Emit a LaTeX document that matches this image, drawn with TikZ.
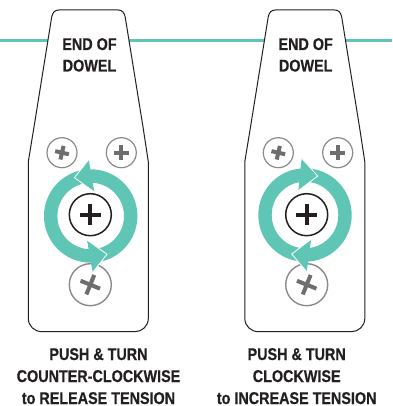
\documentclass[tikz,border=0pt]{standalone}
\usepackage{fontspec}
\setmainfont{Liberation Sans}[BoldFont={Liberation Sans Bold},BoldFeatures={FakeStretch=0.845,FakeBold=0.5}]
\definecolor{teal1}{HTML}{5FC5B5}
\definecolor{greyline}{HTML}{8A8A8A}
\definecolor{greycross}{HTML}{6D6E70}
\definecolor{ink}{HTML}{231F20}
\tikzset{
  x=1pt,y=-1pt,
  plate/.style={draw=ink,fill=white,line width=1pt},
  dowel/.style={draw=teal1,line width=3pt},
  ringstyle/.style={draw=teal1,line width=13.4pt},
  headfill/.style={fill=teal1,draw=none},
  headedge/.style={draw=white,line width=0.8pt,line join=miter},
  label/.style={font=\bfseries\fontsize{17}{18}\selectfont,text=ink,anchor=base,inner sep=0pt},
  screwsmall/.style={draw=greyline,line width=1.2pt,fill=white},
  screwbig/.style={draw=ink,line width=1.5pt,fill=white},
  crossgrey/.style={draw=greycross,line width=4pt},
  crossink/.style={draw=ink,line width=4pt},
}
\newcommand{\plateshape}{%
  \draw[plate] (28.3,240) -- (28.3,161.7) -- (34,127) -- (51.7,17)
  .. controls (52.8,12) and (55,10) .. (59,10) -- (118,10)
  .. controls (122,10) and (124,12) .. (125.2,17) -- (143,127) -- (148.3,161.7) -- (148.3,318.5)
  .. controls (148.3,326) and (142,331.7) .. (135,331.7) -- (42,331.7)
  .. controls (34.5,331.7) and (28.3,326) .. (28.3,318.5) -- cycle;}
\newcommand{\cross}[5]{% x y rotation half style
  \draw[#5,shift={(#1,#2)},rotate=#3] (-#4,0) -- (#4,0) (0,-#4) -- (0,#4);}
\begin{document}
\begin{tikzpicture}
\useasboundingbox (0,0) rectangle (392,406);
\fill[white] (0,0) rectangle (392,406);
\coordinate (L0) at (0,41);
\coordinate (L3) at (392,41);
\draw[dowel] (L0) -- (L3);
% left plate
\begin{scope}
\plateshape
\node[label] (e1) at (89.5,50) {END OF};
\node[label] (d1) at (89.5,71.5) {DOWEL};
\node[circle,screwsmall,minimum size=30pt,inner sep=0pt] (a1) at (62,152.7) {};
\node[circle,screwsmall,minimum size=30pt,inner sep=0pt] (b1) at (121.3,152.7) {};
\node[circle,screwbig,minimum size=42pt,inner sep=0pt] (c1) at (90.3,214.7) {};
\node[circle,screwsmall,line width=1.4pt,minimum size=42pt,inner sep=0pt] (f1) at (90.3,284.7) {};
\cross{62}{152.7}{-13}{7}{crossgrey}
\cross{121.3}{152.7}{0}{7.5}{crossgrey}
\cross{90.3}{214.7}{0}{10.5}{crossink}
\cross{90.3}{284.7}{-22}{10.5}{crossgrey}
\node[circle,ringstyle,minimum size=80pt,inner sep=0pt] (r1) at (90.7,216) {};
\fill[headfill] (r1.center) ++(-16.3,-38.3) -- ++(14.3,-18) -- ++(5.7,32.3) -- cycle;
\fill[headfill] (r1.center) ++(16.3,38.3) -- ++(-14.3,18) -- ++(-5.7,-32.3) -- cycle;
\draw[headedge] (r1.center) ++(-2,-56.3) -- ++(-14.3,18) -- ++(20,14.3);
\draw[headedge] (r1.center) ++(2,56.3) -- ++(14.3,-18) -- ++(-20,-14.3);
\end{scope}
% right plate
\begin{scope}[xshift=216.5pt]
\plateshape
\node[label] (e2) at (89.2,50) {END OF};
\node[label] (d2) at (89.2,71.5) {DOWEL};
\node[circle,screwsmall,minimum size=30pt,inner sep=0pt] (a2) at (61.8,152.7) {};
\node[circle,screwsmall,minimum size=30pt,inner sep=0pt] (b2) at (121.2,152.7) {};
\node[circle,screwbig,minimum size=42pt,inner sep=0pt] (c2) at (90.2,214.7) {};
\node[circle,screwsmall,line width=1.4pt,minimum size=42pt,inner sep=0pt] (f2) at (90.2,284.7) {};
\cross{61.8}{152.7}{-13}{7}{crossgrey}
\cross{121.2}{152.7}{0}{7.5}{crossgrey}
\cross{90.2}{214.7}{0}{10.5}{crossink}
\cross{90.2}{284.7}{-22}{10.5}{crossgrey}
\node[circle,ringstyle,minimum size=80pt,inner sep=0pt] (r2) at (88.5,215) {};
\fill[headfill] (r2.center) ++(12.7,-39) -- ++(-16,-17.7) -- ++(-3.4,32.4) -- cycle;
\fill[headfill] (r2.center) ++(-13.3,39) -- ++(15,17.7) -- ++(4.4,-32.4) -- cycle;
\draw[headedge] (r2.center) ++(-3.3,-56.7) -- ++(16,17.7) -- ++(-19.4,14.7);
\draw[headedge] (r2.center) ++(1.7,56.7) -- ++(-15,-17.7) -- ++(19.4,-14.7);
\end{scope}
\node[label] (t1) at (98.5,360) {PUSH \& TURN};
\node[label] (t2) at (98.5,382) {COUNTER-CLOCKWISE};
\node[label] (t3) at (98.5,404) {to RELEASE TENSION};
\node[label] (u1) at (296.7,360) {PUSH \& TURN};
\node[label] (u2) at (296.7,382) {CLOCKWISE};
\node[label] (u3) at (296.7,404) {to INCREASE TENSION};
\end{tikzpicture}
\end{document}
